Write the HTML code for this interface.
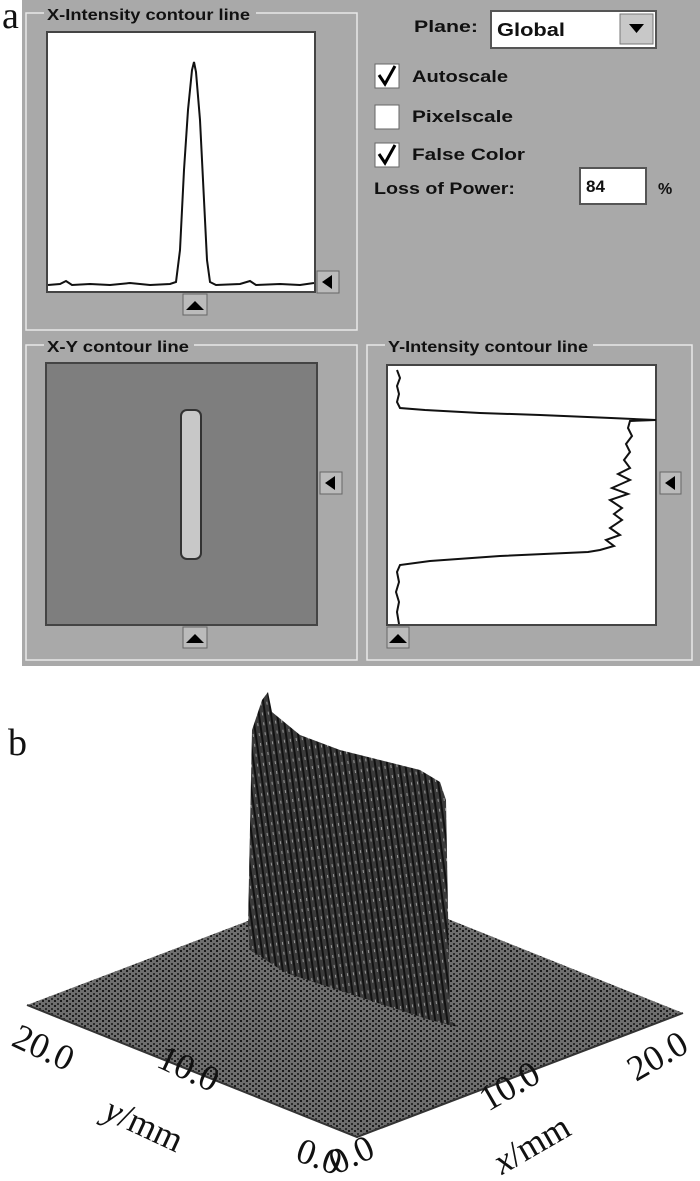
<!DOCTYPE html>
<html><head><meta charset="utf-8"><style>
html,body{margin:0;padding:0;background:#fff;width:700px;height:1181px;overflow:hidden}
svg{display:block}
.ui{font-family:"Liberation Sans",Arial,sans-serif;font-weight:bold;fill:#111}
.sf{font-family:"Liberation Serif",serif;fill:#111}
</style></head><body>
<svg width="700" height="1181" viewBox="0 0 700 1181">
<defs>
<pattern id="dots" width="6" height="5" patternUnits="userSpaceOnUse">
<rect width="6" height="5" fill="#6e6e6e"/>
<rect x="0" y="0" width="2" height="2" fill="#1a1a1a"/>
<rect x="3" y="3" width="2" height="2" fill="#2a2a2a"/>
</pattern>
<pattern id="stripes" width="6" height="10" patternUnits="userSpaceOnUse" patternTransform="rotate(-8)">
<rect width="6" height="10" fill="#3a3a3a"/>
<rect x="0" y="0" width="2" height="10" fill="#111"/>
<rect x="4" y="2" width="1" height="3" fill="#999"/>
</pattern>
</defs>

<text x="2" y="28" class="sf" font-size="38">a</text>
<rect x="22" y="0" width="678" height="666" fill="#a9a9a9"/>

<!-- X intensity group -->
<rect x="26" y="13" width="331" height="317" fill="none" stroke="#e8e8e8" stroke-width="1.5"/>
<rect x="44" y="4" width="212" height="18" fill="#a9a9a9"/>
<text x="47" y="20" class="ui" font-size="16" textLength="203" lengthAdjust="spacingAndGlyphs">X-Intensity contour line</text>
<rect x="47" y="32" width="268" height="260" fill="#fff" stroke="#444" stroke-width="2"/>
<polyline fill="none" stroke="#111" stroke-width="2" points="48,285 60,284 66,281 72,285 90,284 110,285 130,283 150,285 170,284 176,282 180,250 184,170 188,110 192,70 194,62 196,72 200,120 204,200 207,260 210,282 216,285 240,284 250,281 256,285 280,284 300,285 314,283"/>
<rect x="317" y="271" width="22" height="22" fill="#bbb" stroke="#666"/>
<polygon points="322,282 332,275 332,289" fill="#000"/>
<rect x="183" y="294" width="24" height="21" fill="#bbb" stroke="#666"/>
<polygon points="186,310 195,301 204,310" fill="#000"/>

<!-- controls -->
<text x="414" y="32" class="ui" font-size="17" textLength="64" lengthAdjust="spacingAndGlyphs">Plane:</text>
<rect x="491" y="11" width="165" height="37" fill="#fff" stroke="#555" stroke-width="2"/>
<text x="497" y="36" class="ui" font-size="18" textLength="68" lengthAdjust="spacingAndGlyphs">Global</text>
<rect x="620" y="14" width="33" height="30" fill="#c8c8c8" stroke="#777"/>
<polygon points="629,24 644,24 636.5,33" fill="#000"/>
<rect x="375" y="64" width="24" height="24" fill="#fff" stroke="#666"/>
<path d="M379,75 L385,84 L395,66" stroke="#000" stroke-width="3" fill="none"/>
<text x="412" y="82" class="ui" font-size="17" textLength="96" lengthAdjust="spacingAndGlyphs">Autoscale</text>
<rect x="375" y="105" width="24" height="24" fill="#fff" stroke="#666"/>
<text x="412" y="122" class="ui" font-size="17" textLength="101" lengthAdjust="spacingAndGlyphs">Pixelscale</text>
<rect x="375" y="143" width="24" height="24" fill="#fff" stroke="#666"/>
<path d="M379,154 L385,163 L395,145" stroke="#000" stroke-width="3" fill="none"/>
<text x="412" y="160" class="ui" font-size="17" textLength="113" lengthAdjust="spacingAndGlyphs">False Color</text>
<text x="374" y="194" class="ui" font-size="17" textLength="141" lengthAdjust="spacingAndGlyphs">Loss of Power:</text>
<rect x="580" y="168" width="66" height="36" fill="#fff" stroke="#555" stroke-width="2"/>
<text x="586" y="192" class="ui" font-size="17">84</text>
<text x="658" y="194" class="ui" font-size="16">%</text>

<!-- X-Y group -->
<rect x="26" y="345" width="331" height="315" fill="none" stroke="#e8e8e8" stroke-width="1.5"/>
<rect x="44" y="336" width="150" height="18" fill="#a9a9a9"/>
<text x="47" y="352" class="ui" font-size="16" textLength="142" lengthAdjust="spacingAndGlyphs">X-Y contour line</text>
<rect x="46" y="363" width="271" height="262" fill="#7e7e7e" stroke="#444" stroke-width="2"/>
<rect x="181" y="410" width="20" height="149" rx="6" fill="#c8c8c8" stroke="#333" stroke-width="2"/>
<rect x="320" y="472" width="22" height="22" fill="#bbb" stroke="#666"/>
<polygon points="325,483 335,476 335,490" fill="#000"/>
<rect x="183" y="627" width="24" height="21" fill="#bbb" stroke="#666"/>
<polygon points="186,643 195,634 204,643" fill="#000"/>

<!-- Y intensity group -->
<rect x="367" y="345" width="325" height="315" fill="none" stroke="#e8e8e8" stroke-width="1.5"/>
<rect x="385" y="336" width="208" height="18" fill="#a9a9a9"/>
<text x="388" y="352" class="ui" font-size="16" textLength="200" lengthAdjust="spacingAndGlyphs">Y-Intensity contour line</text>
<rect x="387" y="365" width="269" height="260" fill="#fff" stroke="#444" stroke-width="2"/>
<polyline fill="none" stroke="#111" stroke-width="2" points="397,370 400,378 397,386 399,394 397,402 400,408 425,410 480,413 540,415 611,418 656,420 630,421 628,428 632,436 626,444 630,452 624,460 630,468 618,474 630,480 612,488 628,494 610,500 622,508 614,514 622,520 610,528 620,535 606,540 614,546 600,550 588,552 500,556 430,561 400,565 397,572 399,582 396,592 399,602 397,612 399,624"/>
<rect x="660" y="472" width="21" height="22" fill="#bbb" stroke="#666"/>
<polygon points="665,483 675,476 675,490" fill="#000"/>
<rect x="387" y="627" width="22" height="21" fill="#bbb" stroke="#666"/>
<polygon points="389,643 398,634 407,643" fill="#000"/>

<!-- b -->
<text x="8" y="755" class="sf" font-size="38">b</text>
<polygon points="27,1005 353,881 683,1013 357,1137" fill="url(#dots)"/>
<polyline points="27,1005 357,1137 683,1013" fill="none" stroke="#333" stroke-width="2"/>
<polygon points="248,925 252,730 262,700 268,692 272,712 300,735 340,750 380,760 420,770 440,782 446,800 450,1020 458,1027 430,1020 286,973 250,950" fill="url(#stripes)"/>

<g class="sf" font-size="36">
<text transform="translate(10,1045) rotate(25)">20.0</text>
<text transform="translate(155,1066) rotate(25)">10.0</text>
<text transform="translate(102,1118) rotate(25)"><tspan font-style="italic">y</tspan>/mm</text>
<text transform="translate(294,1160) rotate(20)">0.0</text>
<text transform="translate(336,1175) rotate(-25)">0.0</text>
<text transform="translate(488,1112) rotate(-30)">10.0</text>
<text transform="translate(502,1175) rotate(-30)"><tspan font-style="italic">x</tspan>/mm</text>
<text transform="translate(636,1082) rotate(-30)">20.0</text>
</g>
</svg>
</body></html>
